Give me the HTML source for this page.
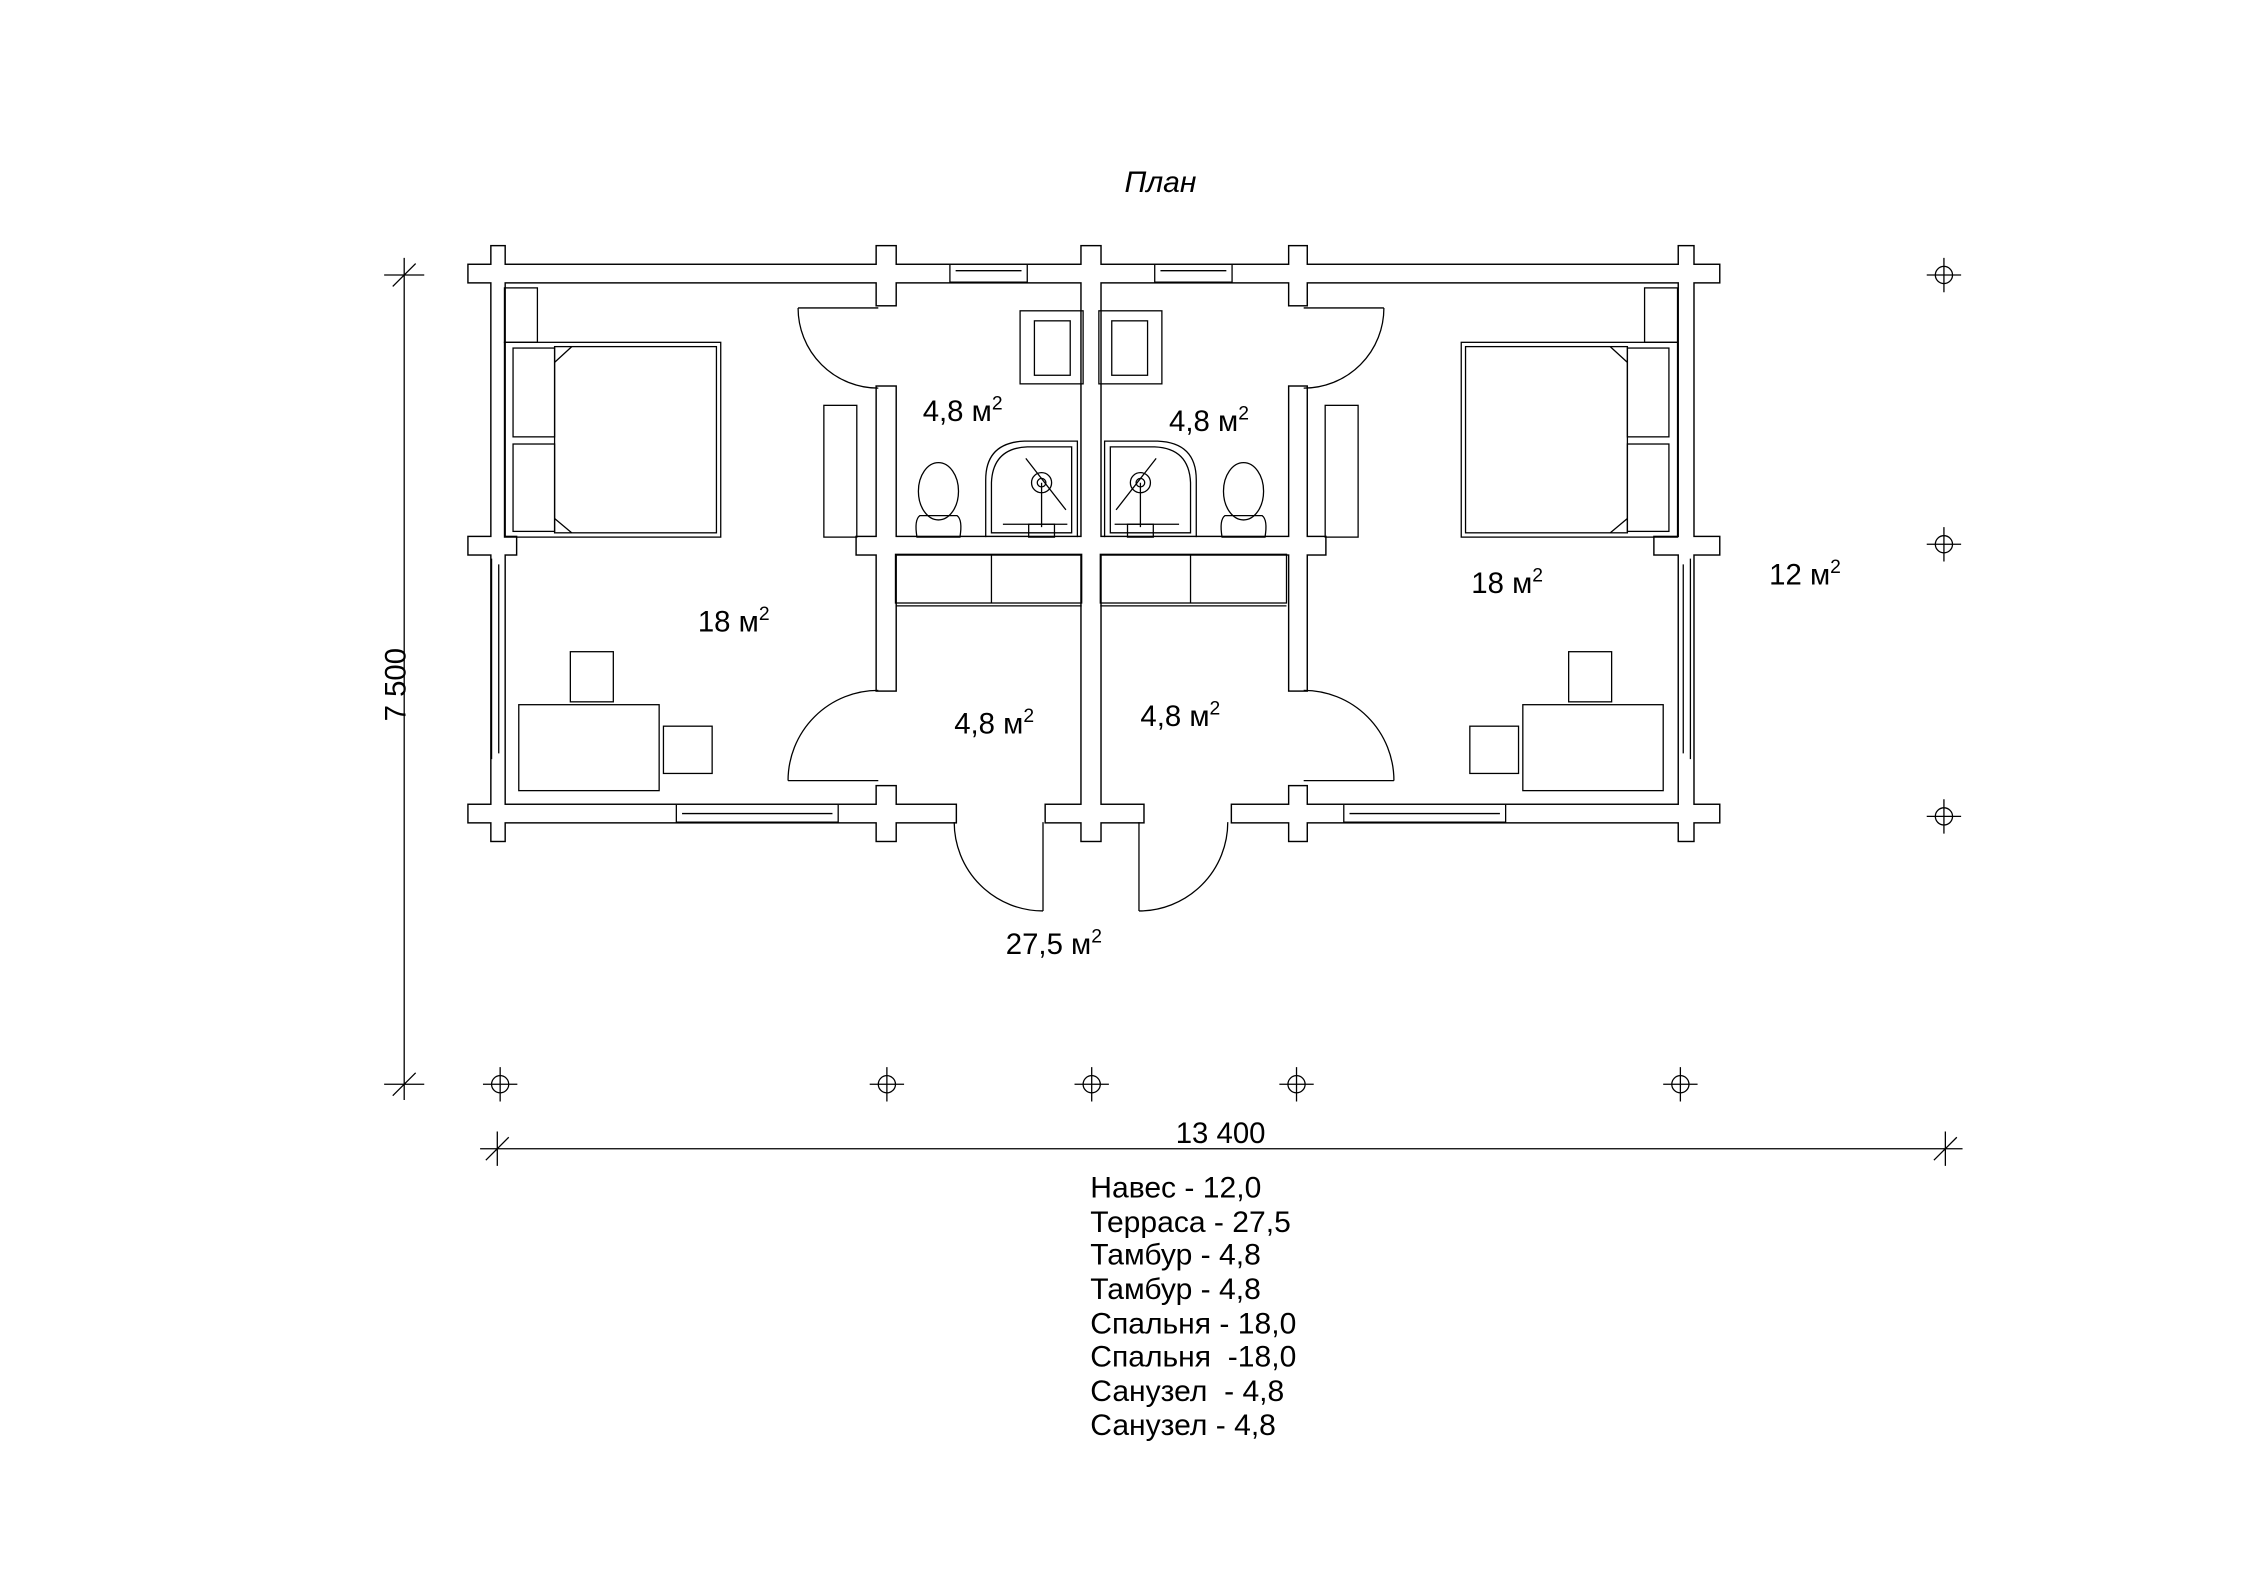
<!DOCTYPE html>
<html><head><meta charset="utf-8"><style>
html,body{margin:0;padding:0;background:#fff}
svg{display:block}
text{font-family:"Liberation Sans",sans-serif;fill:#000}
</style></head><body>
<svg width="2245" height="1587" viewBox="0 0 1567 1108" xmlns="http://www.w3.org/2000/svg">
<defs>
<g id="wallsK">
  <rect x="327" y="185" width="873" height="12"/>
  <rect x="327" y="562" width="340" height="12"/>
  <rect x="730" y="562" width="68" height="12"/>
  <rect x="860" y="562" width="340" height="12"/>
  <rect x="343" y="172" width="9" height="415"/>
  <rect x="1172" y="172" width="10" height="415"/>
  <rect x="755" y="172" width="13" height="415"/>
  <rect x="612" y="172" width="13" height="41"/>
  <rect x="612" y="270" width="13" height="212"/>
  <rect x="612" y="549" width="13" height="38"/>
  <rect x="900" y="172" width="12" height="41"/>
  <rect x="900" y="270" width="12" height="212"/>
  <rect x="900" y="549" width="12" height="38"/>
  <rect x="598" y="375" width="327" height="12"/>
  <rect x="327" y="375" width="33" height="12"/>
  <rect x="1155" y="375" width="45" height="12"/>
</g>
<g id="half" fill="none" stroke="#000" stroke-width="0.9">
  <path d="M557 215 H613 M557 215 A56 56 0 0 0 613 271"/>
  <path d="M550 545 H613 M550 545 A63 63 0 0 1 613 482"/>
  <path d="M728 574 V636 M666 574 A62 62 0 0 0 728 636"/>
  <rect x="352" y="201" width="23" height="38"/>
  <rect x="352" y="239" width="151" height="136"/>
  <rect x="387" y="242" width="113" height="130"/>
  <rect x="358" y="243" width="29" height="62"/>
  <rect x="358" y="310" width="29" height="61"/>
  <path d="M387 253 L399 242 M387 362 L399 372"/>
  <rect x="362" y="492" width="98" height="60"/>
  <rect x="398" y="455" width="30" height="35"/>
  <rect x="463" y="507" width="34" height="33"/>
  <rect x="575" y="283" width="23" height="92"/>
  <rect x="712" y="217" width="44" height="51"/>
  <rect x="722" y="224" width="25" height="38"/>
  <ellipse cx="655" cy="343" rx="14" ry="20"/>
  <path d="M642 360 Q638 363 640 375 H670 Q672 363 668 360 Z"/>
  <path d="M688 375 V335 Q688 309 715 308 H752 V375"/>
  <path d="M692 372 V337 Q693 313 717 312 H748 V372 Z"/>
  <circle cx="727" cy="337" r="7"/><circle cx="727" cy="337" r="3"/>
  <path d="M727 337 V368 M716 320 L744 356 M700 366 H745"/>
  <rect x="718" y="366" width="18" height="9"/>
  <rect x="625" y="387" width="130" height="34"/>
  <path d="M692 387 V421 M625 423 H755"/>
  <path d="M663 185 V197 H717 V185 M667 189 H713 M472 562 V574 H585 V562 M476 568 H581 M343 390 V530 M348 394 V526"/>
</g>
<g id="axis" fill="none" stroke="#000" stroke-width="0.9">
  <circle r="6"/><path d="M-12 0 H12 M0 -12 V12"/>
</g>
</defs>
<rect width="1567" height="1108" fill="#fff"/>
<text x="810" y="134" font-size="21" font-style="italic" text-anchor="middle">План</text>

<g fill="#000" stroke="#000" stroke-width="2"><use href="#wallsK"/></g>
<g fill="#fff"><use href="#wallsK"/></g>

<use href="#half"/>
<use href="#half" transform="translate(1523,0) scale(-1,1)"/>

<g font-size="20.5">
<text x="644" y="294">4,8 м<tspan font-size="13.5" dy="-8">2</tspan></text>
<text x="816" y="301">4,8 м<tspan font-size="13.5" dy="-8">2</tspan></text>
<text x="487" y="441">18 м<tspan font-size="13.5" dy="-8">2</tspan></text>
<text x="1027" y="414">18 м<tspan font-size="13.5" dy="-8">2</tspan></text>
<text x="1235" y="408">12 м<tspan font-size="13.5" dy="-8">2</tspan></text>
<text x="666" y="512">4,8 м<tspan font-size="13.5" dy="-8">2</tspan></text>
<text x="796" y="507">4,8 м<tspan font-size="13.5" dy="-8">2</tspan></text>
<text x="702" y="666">27,5 м<tspan font-size="13.5" dy="-8">2</tspan></text>
</g>

<use href="#axis" x="349" y="757"/><use href="#axis" x="619" y="757"/>
<use href="#axis" x="762" y="757"/><use href="#axis" x="905" y="757"/>
<use href="#axis" x="1173" y="757"/>
<use href="#axis" x="1357" y="192"/><use href="#axis" x="1357" y="380"/>
<use href="#axis" x="1357" y="570"/>

<g stroke="#000" stroke-width="0.9" fill="none">
  <path d="M282 180 V768 M268 192 H296 M268 757 H296 M274 200 L290 184 M274 765 L290 749"/>
  <path d="M335 802 H1370 M347 790 V814 M1358 790 V814 M339 810 L355 794 M1350 810 L1366 794"/>
</g>
<text x="283" y="478" font-size="20.5" text-anchor="middle" transform="rotate(-90 283 478)">7 500</text>
<text x="852" y="798" font-size="20.5" text-anchor="middle">13 400</text>

<g font-size="21">
<text x="761" y="836">Навес - 12,0</text>
<text x="761" y="860">Терраса - 27,5</text>
<text x="761" y="883">Тамбур - 4,8</text>
<text x="761" y="907">Тамбур - 4,8</text>
<text x="761" y="931">Спальня - 18,0</text>
<text x="761" y="954" xml:space="preserve">Спальня  -18,0</text>
<text x="761" y="978" xml:space="preserve">Санузел  - 4,8</text>
<text x="761" y="1002">Санузел - 4,8</text>
</g>
</svg>
</body></html>
